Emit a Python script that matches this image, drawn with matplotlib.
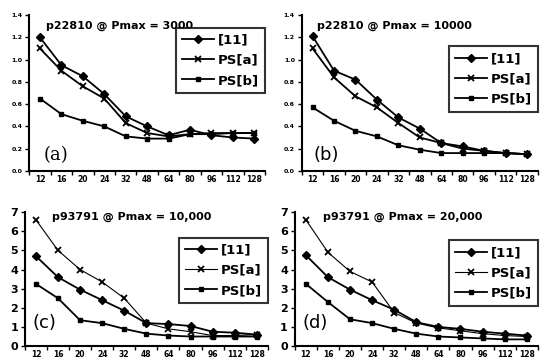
import matplotlib.pyplot as plt

# category axis (processor counts)
cats = ["12", "16", "20", "24", "32", "48", "64", "80", "96", "112", "128"]

# (a) p22810 @ Pmax = 3000
a_ref = [1.20, 0.95, 0.85, 0.69, 0.49, 0.40, 0.32, 0.37, 0.32, 0.30, 0.29]
a_psa = [1.10, 0.90, 0.76, 0.65, 0.43, 0.34, 0.31, 0.33, 0.34, 0.34, 0.34]
a_psb = [0.65, 0.51, 0.45, 0.40, 0.31, 0.29, 0.29, 0.33, 0.33, 0.34, 0.34]

# (b) p22810 @ Pmax = 10000
b_ref = [1.21, 0.90, 0.82, 0.64, 0.48, 0.38, 0.25, 0.22, 0.18, 0.16, 0.15]
b_psa = [1.10, 0.84, 0.67, 0.57, 0.43, 0.30, 0.25, 0.20, 0.18, 0.16, 0.15]
b_psb = [0.57, 0.45, 0.36, 0.31, 0.23, 0.19, 0.16, 0.16, 0.16, 0.16, 0.15]

# (c) p93791 @ Pmax = 10,000
c_ref = [4.70, 3.60, 2.95, 2.40, 1.85, 1.20, 1.15, 1.05, 0.75, 0.70, 0.60]
c_psa = [6.60, 5.00, 4.00, 3.35, 2.50, 1.20, 0.90, 0.75, 0.55, 0.55, 0.60]
c_psb = [3.25, 2.50, 1.35, 1.20, 0.90, 0.65, 0.55, 0.50, 0.50, 0.50, 0.50]

# (d) p93791 @ Pmax = 20,000
d_ref = [4.75, 3.60, 2.95, 2.40, 1.90, 1.25, 1.00, 0.90, 0.75, 0.65, 0.55]
d_psa = [6.60, 4.90, 3.90, 3.35, 1.75, 1.20, 0.95, 0.80, 0.65, 0.55, 0.50]
d_psb = [3.25, 2.30, 1.40, 1.20, 0.90, 0.65, 0.50, 0.45, 0.40, 0.35, 0.35]

names = ["[11]", "PS[a]", "PS[b]"]


def draw_panel(ax, series, title, label, ylim, yticks, yfmt, ytick_size,
               title_pos, label_pos, label_family, legend_box, psa_lw):
    x = range(len(cats))
    ax.plot(x, series[0], color="black", lw=1.3, marker="D", ms=4.5, label=names[0])
    ax.plot(x, series[1], color="black", lw=psa_lw, marker="x", ms=5, mew=1.3, label=names[1])
    ax.plot(x, series[2], color="black", lw=1.3, marker="s", ms=3.5, label=names[2])

    ax.set_xlim(-0.5, len(cats) - 0.5)
    ax.set_ylim(*ylim)
    ax.set_yticks(yticks)
    ax.set_yticklabels([yfmt.format(v) for v in yticks], fontsize=ytick_size,
                       fontweight="bold")

    # labels at category centres, tick marks between categories
    ax.set_xticks(list(x))
    ax.set_xticklabels(cats, fontsize=5.5, fontweight="bold")
    ax.set_xticks([i + 0.5 for i in range(-1, len(cats))], minor=True)
    ax.tick_params(axis="x", which="major", length=0, pad=3)
    ax.tick_params(axis="x", which="minor", length=3, width=1, direction="out")
    ax.tick_params(axis="y", length=3, width=1, direction="out", pad=2)

    for s in ["top", "right"]:
        ax.spines[s].set_visible(False)
    for s in ["left", "bottom"]:
        ax.spines[s].set_linewidth(1.5)

    ax.text(title_pos[0], title_pos[1], title, transform=ax.transAxes,
            fontsize=8, fontweight="bold", va="center", ha="left")
    ax.text(label_pos[0], label_pos[1], label, transform=ax.transAxes,
            fontsize=13, family=label_family, va="center", ha="left")

    leg = ax.legend(loc="upper right", bbox_to_anchor=legend_box,
                    prop={"weight": "bold", "size": 9.5},
                    frameon=True, fancybox=False,
                    handlelength=2.4, handletextpad=0.3, borderpad=0.45,
                    labelspacing=0.55, borderaxespad=0.0)
    leg.get_frame().set_edgecolor("black")
    leg.get_frame().set_linewidth(1.5)


fig = plt.figure(figsize=(5.41, 3.59), dpi=100)

ax_a = fig.add_axes([0.054, 0.524, 0.436, 0.434])
ax_b = fig.add_axes([0.558, 0.524, 0.436, 0.434])
ax_c = fig.add_axes([0.046, 0.036, 0.449, 0.373])
ax_d = fig.add_axes([0.545, 0.036, 0.449, 0.373])

top_ticks = [0.0, 0.2, 0.4, 0.6, 0.8, 1.0, 1.2, 1.4]
bot_ticks = [0, 1, 2, 3, 4, 5, 6, 7]

draw_panel(ax_a, [a_ref, a_psa, a_psb], "p22810 @ Pmax = 3000", "(a)",
           (0, 1.4), top_ticks, "{:.1f}", 4.5, (0.07, 0.93), (0.06, 0.10),
           "serif", (1.0, 0.92), 1.3)
draw_panel(ax_b, [b_ref, b_psa, b_psb], "p22810 @ Pmax = 10000", "(b)",
           (0, 1.4), top_ticks, "{:.1f}", 4.5, (0.065, 0.93), (0.05, 0.10),
           "DejaVu Sans", (1.0, 0.80), 1.3)
draw_panel(ax_c, [c_ref, c_psa, c_psb], "p93791 @ Pmax = 10,000", "(c)",
           (0, 7), bot_ticks, "{:d}", 8, (0.11, 0.965), (0.03, 0.17),
           "DejaVu Sans", (1.0, 0.81), 0.8)
draw_panel(ax_d, [d_ref, d_psa, d_psb], "p93791 @ Pmax = 20,000", "(d)",
           (0, 7), bot_ticks, "{:d}", 8, (0.115, 0.965), (0.03, 0.17),
           "DejaVu Sans", (1.0, 0.79), 0.8)

fig.savefig("out.png", dpi=100)
